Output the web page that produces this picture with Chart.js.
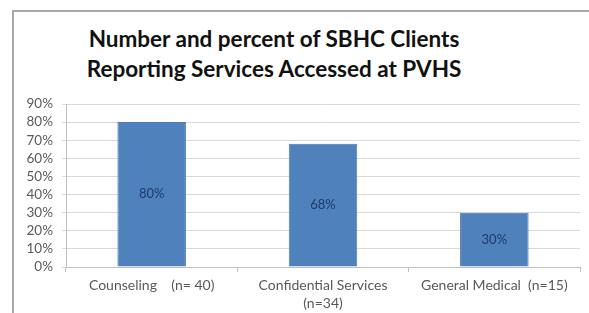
<!DOCTYPE html>
<html>
<head>
<meta charset="utf-8">
<script src="https://cdn.jsdelivr.net/npm/chart.js@4"></script>
<style>
    html, body { margin: 0; padding: 0; background: #fff; overflow: hidden; }
    #wrap { position: relative; width: 589px; height: 313px; }
    #frame {
        position: absolute; left: 12px; top: 10px; width: 600px; height: 320px;
        border-left: 2px solid #a9a9a9; border-top: 2px solid #a9a9a9;
    }
    #titulo {
        position: absolute; left: 0; top: 24px; width: 548px;
        text-align: center; font-family: Lato, sans-serif; font-weight: bold;
        font-size: 22.5px; line-height: 30px; color: #111;
    }
    canvas { position: absolute; left: 0; top: 0; }
</style>
</head>
<body>
<div id="wrap">
    <div id="frame"></div>
    <div id="titulo">Number and percent of SBHC Clients<br>Reporting Services Accessed at PVHS</div>
    <canvas id="grafico" width="589" height="313"></canvas>
</div>
<script>
// DATOS
const categorias = ['Counseling    (n= 40)', ['Confidential Services', '(n=34)'], 'General Medical  (n=15)'];
const porcentajes = [80, 68, 30];
const etiquetas = ['80%', '68%', '30%'];
const ticksY = [0, 10, 20, 30, 40, 50, 60, 70, 80, 90];

// etiquetas dentro de las barras
const etiquetasBarras = {
    id: 'etiquetasBarras',
    afterDatasetsDraw(chart) {
        const ctx = chart.ctx;
        const meta = chart.getDatasetMeta(0);
        ctx.save();
        ctx.font = '13px Lato, sans-serif';
        ctx.fillStyle = '#1f3b6b';
        ctx.textAlign = 'center';
        ctx.textBaseline = 'middle';
        meta.data.forEach((bar, i) => {
            ctx.fillText(etiquetas[i], bar.x, (bar.y + bar.base) / 2);
        });
        ctx.restore();
    }
};

const ctx = document.getElementById('grafico').getContext('2d');
new Chart(ctx, {
    type: 'bar',
    data: {
        labels: categorias,
        datasets: [{
            data: porcentajes,
            backgroundColor: '#4f81bd',
            borderColor: '#4a7ab5',
            borderWidth: 1,
            barPercentage: 1,
            categoryPercentage: 0.4
        }]
    },
    options: {
        responsive: false,
        animation: false,
        layout: { padding: { left: 0, right: 9, top: 104, bottom: 0 } },
        plugins: { legend: { display: false }, tooltip: { enabled: false } },
        scales: {
            x: {
                afterFit: s => { s.height = 46; },
                grid: { drawOnChartArea: false, tickLength: 5, color: '#bfbfbf', offset: true },
                border: { color: '#bfbfbf' },
                ticks: {
                    color: '#595959', font: { family: 'Lato', size: 14, lineHeight: 1.3 },
                    padding: 4, maxRotation: 0
                }
            },
            y: {
                min: 0,
                max: 90,
                afterFit: s => { s.width = 66; },
                afterBuildTicks: s => { s.ticks = ticksY.map(v => ({ value: v })); },
                grid: { color: '#d9d9d9', tickLength: 4 },
                border: { color: '#bfbfbf' },
                ticks: {
                    color: '#595959', font: { family: 'Lato', size: 13.5 }, padding: 9,
                    autoSkip: false,
                    callback: v => v + '%'
                }
            }
        }
    },
    plugins: [etiquetasBarras]
});
</script>
</body>
</html>
